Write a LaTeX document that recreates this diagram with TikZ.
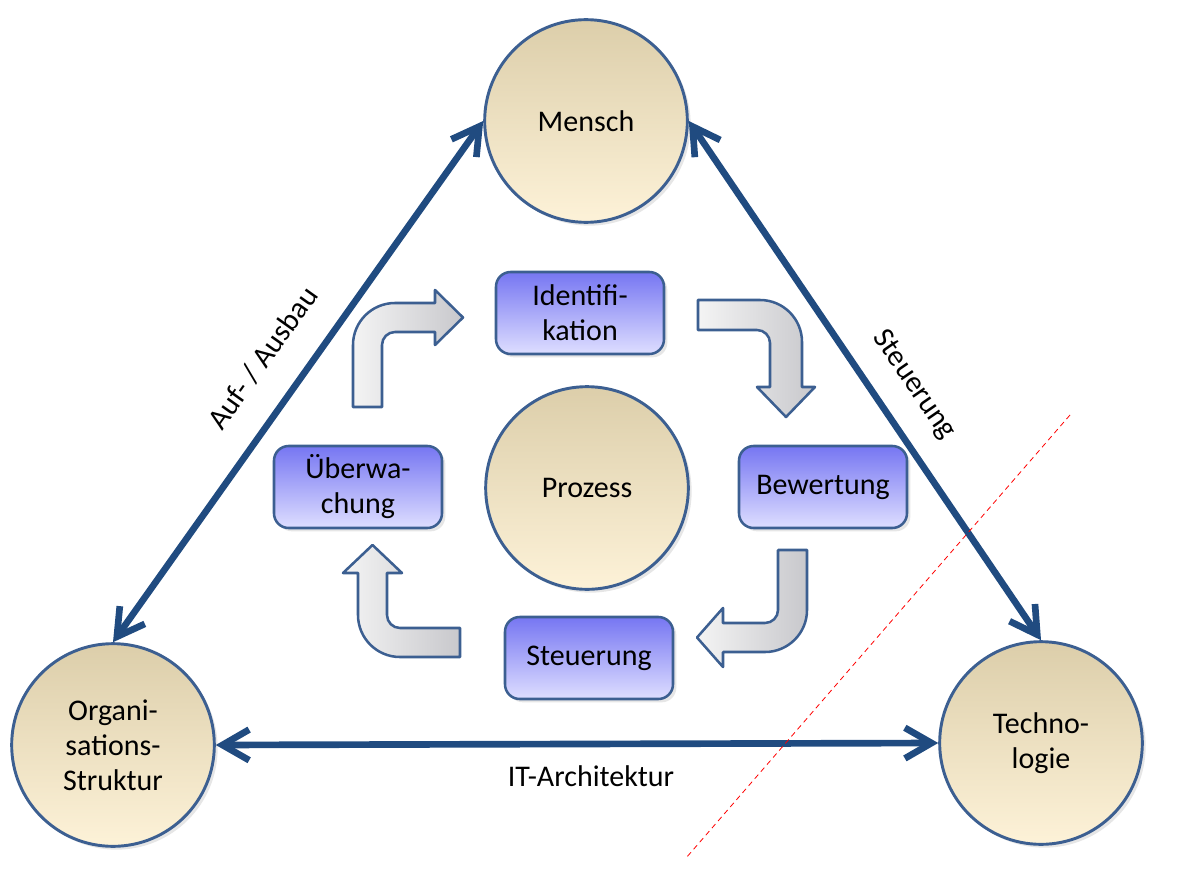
\documentclass[tikz,border=0pt]{standalone}
\usepackage{fontspec}
\setmainfont{Carlito}
\usetikzlibrary{arrows.meta,shadows}
\definecolor{linkblue}{RGB}{32,75,128}
\definecolor{rimblue}{RGB}{60,95,145}
\definecolor{boxtop}{RGB}{118,118,242}
\definecolor{boxbot}{RGB}{222,222,255}
\definecolor{circtop}{RGB}{220,206,170}
\definecolor{circbot}{RGB}{253,242,216}
\definecolor{flowlight}{RGB}{244,244,244}
\definecolor{flowdark}{RGB}{200,200,204}
\begin{document}
\begin{tikzpicture}[x=0.75pt,y=-0.75pt,
  font=\fontsize{22.5}{26.3}\selectfont,
  topic/.style={circle, draw=rimblue, line width=2.2pt, minimum size=152pt,
    inner sep=0pt, top color=circtop, bottom color=circbot, align=center,
    drop shadow={shadow xshift=2.5pt, shadow yshift=-2.5pt, opacity=0.2}},
  stage/.style={rectangle, rounded corners=11pt, draw=rimblue, line width=1.9pt,
    minimum width=126pt, minimum height=61.5pt, inner sep=0pt,
    top color=boxtop, bottom color=boxbot, align=center,
    drop shadow={shadow xshift=2.5pt, shadow yshift=-2.5pt, opacity=0.2}},
  link/.style={draw=linkblue, line width=5pt,
    {Straight Barb[length=20pt,width=23pt]}-{Straight Barb[length=20pt,width=23pt]}},
  flow/.style={draw=rimblue, line width=1.9pt, left color=flowlight,
    right color=flowdark, line join=round},
  cut/.style={red, line width=0.6pt, dash pattern=on 4pt off 3pt},
  tag/.style={inner sep=0pt}]
\useasboundingbox (0,0) rectangle (1177,888);

% outer topics
\node[topic] (mensch) at (586,121) {Mensch};
\node[topic] (prozess) at (587,488) {Prozess};
\node[topic] (org) at (113,745) {Organi-\\sations-\\Struktur};
\node[topic] (tech) at (1041,743) {Techno-\\logie};

% stages
\node[stage] (ident) at (580,313) {Identifi-\\kation};
\node[stage] (bew) at (823,487) {Bewertung};
\node[stage] (steu) at (589,658) {Steuerung};
\node[stage] (ueber) at (358,487) {Überwa-\\chung};

% cycle arrows
\draw[flow] (353,407) -- (353,345) .. controls (353,321.8) and (371.8,303) .. (395,303)
  -- (435,303) -- (435,290) -- (463,317.5) -- (435,345) -- (435,332) -- (395,332)
  .. controls (387.8,332) and (382,337.8) .. (382,345) -- (382,407) -- cycle;
\draw[flow] (698,300) -- (760,300) .. controls (783.2,300) and (802,318.8) .. (802,342)
  -- (802,387) -- (815,387) -- (786,417) -- (757,387) -- (770,387) -- (770,343)
  .. controls (770,335.8) and (764.2,330) .. (757,330) -- (698,330) -- cycle;
\draw[flow] (778,550) -- (807,550) -- (807,610) .. controls (807,633.2) and (788.2,652) .. (765,652)
  -- (723,652) -- (723,667) -- (697,637.5) -- (723,608) -- (723,623) -- (765,623)
  .. controls (772.2,623) and (778,617.2) .. (778,610) -- cycle;
\draw[flow] (460,628) -- (460,657) -- (400,657) .. controls (376.8,657) and (358,638.2) .. (358,615)
  -- (358,573) -- (343,573) -- (372.5,545) -- (402,573) -- (387,573) -- (387,615)
  .. controls (387,622.2) and (392.8,628) .. (400,628) -- cycle;

% links
\draw[link] (mensch.west) -- (org.north);
\draw[link] (mensch.east) -- (tech.north);
\draw[link] (org.east) -- (tech.west);

% labels
\node[tag, rotate=54.6] (lblL) at (263,358) {Auf- / Ausbau};
\node[tag, rotate=-55.3] (lblR) at (914,385) {Steuerung};
\node[tag] (lblB) at (591,776) {IT-Architektur};

% red dashed line
\coordinate (cutA) at (1070,415);
\coordinate (cutB) at (686,858);
\draw[cut] (cutA) -- (cutB);
\end{tikzpicture}
\end{document}
